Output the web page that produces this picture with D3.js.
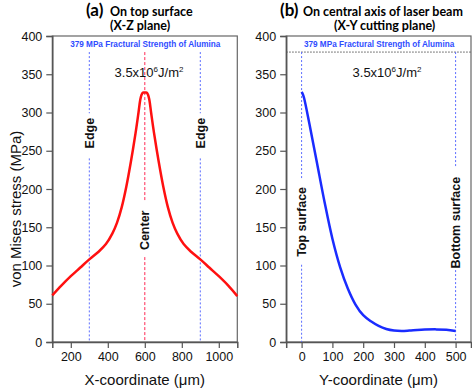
<!DOCTYPE html>
<html>
<head>
<meta charset="utf-8">
<script src="https://cdn.jsdelivr.net/npm/d3@7"></script>
<style>
body { margin: 0; background: #fff; }
svg { display: block; font-family: "Liberation Sans", Arial, sans-serif; }
</style>
</head>
<body>
<script>
// (a) top surface, stress along X
var topX      = [100, 150, 200, 250, 300, 350, 390, 425, 450, 475, 500, 525, 550, 566, 575, 582, 590, 600, 610, 618, 625, 634, 650, 675, 700, 725, 750, 775, 810, 850, 900, 950, 1000, 1050, 1100];
var topStress = [61, 74, 86, 97, 108, 118, 128, 142, 156, 176, 203, 236, 273, 300, 316, 323, 326, 326, 326, 323, 316, 300, 273, 236, 203, 176, 156, 142, 128, 118, 108, 97, 86, 74, 60];
// (b) central axis, stress along Y
var axisY      = [0, 4, 8, 25, 50, 75, 100, 125, 150, 175, 200, 225, 250, 275, 300, 325, 350, 375, 400, 437, 470, 500];
var axisStress = [327, 324, 319, 286, 234, 182, 135, 98, 70, 49, 35, 27, 21, 17, 15, 14.5, 15, 15.7, 16.2, 16.5, 16, 14.5];

var stressTicks = [0, 50, 100, 150, 200, 250, 300, 350, 400];
var topXTicks   = [200, 400, 600, 800, 1000];
var axisYTicks  = [0, 100, 200, 300, 400, 500];
var strength    = 379;

var width      = 472;
var height     = 390;
var plotTop    = 36;
var plotBottom = 342;

var svg = d3.select('body').append('svg')
  .attr('width', width)
  .attr('height', height)
  .attr('viewBox', [0, 0, width, height].join(' '));

var y = d3.scaleLinear().domain([0, 400]).range([plotBottom, plotTop]);

var xa = d3.scaleLinear().domain([100, 1100]).range([52.3, 237.3]);
var xb = d3.scaleLinear().domain([-50, 550]).range([286.2, 471]);

drawPanel(xa, topXTicks, d3.range(100, 1101, 100), 'X-coordinate (\u03bcm)');
drawPanel(xb, axisYTicks, d3.range(-50, 551, 50), 'Y-coordinate (\u03bcm)');

// y label (only left)
svg.append('text')
  .attr('transform', 'translate(21,209) rotate(-90)')
  .attr('text-anchor', 'middle')
  .style('font-size', '15px')
  .style('fill', '#111')
  .text('von Mises stress (MPa)');

// titles
title(86, '(a)', 110, 'On top surface', 110, '(X-Z plane)');
title(280, '(b)', 303, 'On central axis of laser beam', 334, '(X-Y cutting plane)');

// strength annotation
[xa, xb].forEach(function(x) {
  var mid = (x.range()[0] + x.range()[1]) / 2;
  svg.append('text')
    .attr('x', mid + 0.5)
    .attr('y', 47)
    .attr('text-anchor', 'middle')
    .style('font-size', '8.2px')
    .style('font-weight', 'bold')
    .style('fill', '#2f4cff')
    .text(strength + ' MPa Fractural Strength of Alumina');
});
svg.append('line')
  .attr('x1', xb(-50)).attr('x2', xb(550))
  .attr('y1', y(strength)).attr('y2', y(strength))
  .style('stroke', '#555')
  .style('stroke-width', 1)
  .style('stroke-dasharray', '1.5,1.5');

// marker lines with labels
marker(xa, 300, '#5a6cff', '2,2', 299, 240, 273, 'Edge');
marker(xa, 900, '#5a6cff', '2,2', 299, 240, 273, 'Edge');
marker(xa, 600, '#ff2a55', '3,2', 183, 111, 146, 'Center');
marker(xb, 0, '#5a6cff', '2,2', 214, 101, 157, 'Top surface');
marker(xb, 500, '#5a6cff', '2,2', 229, 94, 156, 'Bottom surface');

// energy labels
energy(149, 77);
energy(387, 77);

// curves
curve(xa, topX, topStress, '#ff1010');
curve(xb, axisY, axisStress, '#1a2cff');

function drawPanel(x, major, minor, label) {
  var r = x.range();
  svg.append('rect')
    .attr('x', r[0]).attr('y', plotTop)
    .attr('width', r[1] - r[0]).attr('height', plotBottom - plotTop)
    .style('fill', 'none')
    .style('stroke', '#666')
    .style('stroke-width', 1.2);

  var gx = svg.append('g').attr('transform', 'translate(0,' + plotBottom + ')');
  gx.call(d3.axisBottom(x).tickValues(minor).tickSize(3).tickFormat(''));
  gx.call(d3.axisBottom(x).tickValues(major).tickSize(6).tickPadding(4).tickFormat(d3.format('d')));
  styleAxis(gx);

  var gy = svg.append('g').attr('transform', 'translate(' + r[0] + ',0)');
  gy.call(d3.axisLeft(y).tickValues(d3.range(25, 400, 50)).tickSize(3).tickFormat(''));
  gy.call(d3.axisLeft(y).tickValues(stressTicks).tickSize(6).tickPadding(4));
  styleAxis(gy);

  svg.append('text')
    .attr('x', (r[0] + r[1]) / 2)
    .attr('y', 385)
    .attr('text-anchor', 'middle')
    .style('font-size', '15px')
    .style('fill', '#111')
    .text(label);
}

function styleAxis(g) {
  g.selectAll('.domain').style('stroke', '#555').style('stroke-width', 1.5);
  g.selectAll('.tick line').style('stroke', '#555').style('stroke-width', 1.2);
  g.selectAll('.tick text').style('font-size', '12.5px').style('fill', '#111')
    .style('font-family', '"Liberation Sans", Arial, sans-serif');
}

function title(px, tag, tx, line1, tx2, line2) {
  svg.append('text')
    .attr('x', px).attr('y', 15.5)
    .style('font-family', 'Lato, "Open Sans", sans-serif')
    .style('font-size', '17px')
    .style('font-weight', 'bold')
    .text(tag);
  svg.append('text')
    .attr('x', tx).attr('y', 15.5)
    .style('font-family', 'Lato, "Open Sans", sans-serif')
    .style('font-size', '12.5px')
    .style('font-weight', 'bold')
    .text(line1);
  svg.append('text')
    .attr('x', tx2).attr('y', 29.5)
    .style('font-family', 'Lato, "Open Sans", sans-serif')
    .style('font-size', '12.5px')
    .style('font-weight', 'bold')
    .text(line2);
}

function marker(x, at, color, dash, gapTop, gapBottom, textAt, label) {
  [[strength, gapTop], [gapBottom, 0]].forEach(function(seg) {
    svg.append('line')
      .attr('x1', x(at)).attr('x2', x(at))
      .attr('y1', y(seg[0])).attr('y2', y(seg[1]))
      .style('stroke', color)
      .style('stroke-width', 1)
      .style('stroke-dasharray', dash);
  });
  svg.append('text')
    .attr('transform', 'translate(' + (x(at) + 4.5) + ',' + y(textAt) + ') rotate(-90)')
    .attr('text-anchor', 'middle')
    .style('font-size', '12.5px')
    .style('font-weight', 'bold')
    .style('fill', '#111')
    .text(label);
}

function energy(cx, by) {
  var t = svg.append('text')
    .attr('x', cx).attr('y', by)
    .attr('text-anchor', 'middle')
    .style('font-size', '13px')
    .style('fill', '#111');
  t.append('tspan').text('3.5x10');
  t.append('tspan').attr('dy', -5).style('font-size', '8px').text('6');
  t.append('tspan').attr('dy', 5).text('J/m');
  t.append('tspan').attr('dy', -5).style('font-size', '8px').text('2');
}

function curve(x, xs, ys, color) {
  var pts = xs.map(function(d, i) { return [d, ys[i]]; });
  var line = d3.line()
    .x(function(d) { return x(d[0]); })
    .y(function(d) { return y(d[1]); })
    .curve(d3.curveCatmullRom.alpha(0.5));
  svg.append('path')
    .datum(pts)
    .attr('d', line)
    .style('fill', 'none')
    .style('stroke', color)
    .style('stroke-width', 2.5);
}
</script>
</body>
</html>
